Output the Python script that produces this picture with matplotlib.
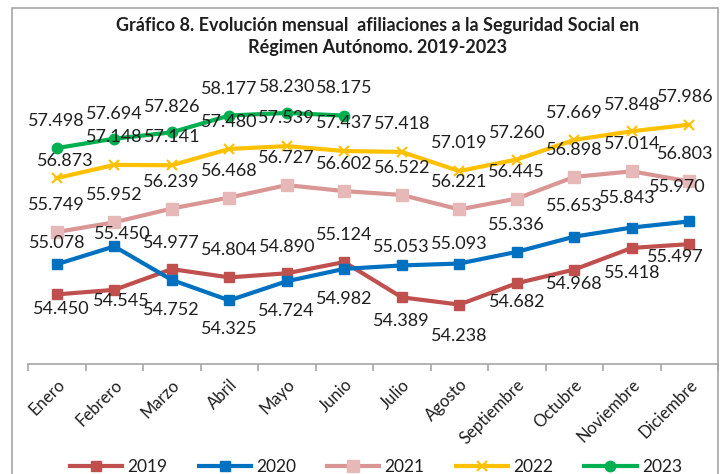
import matplotlib
matplotlib.use('Agg')
from matplotlib import pyplot as plt
from matplotlib.patches import Rectangle

plt.rcParams['font.family'] = ['Lato', 'DejaVu Sans']

meses = ['Enero', 'Febrero', 'Marzo', 'Abril', 'Mayo', 'Junio', 'Julio',
         'Agosto', 'Septiembre', 'Octubre', 'Noviembre', 'Diciembre']

v2019 = [54.450, 54.545, 54.977, 54.804, 54.890, 55.124, 54.389, 54.238,
         54.682, 54.968, 55.418, 55.497]
v2020 = [55.078, 55.450, 54.752, 54.325, 54.724, 54.982, 55.053, 55.093,
         55.336, 55.653, 55.843, 55.970]
v2021 = [55.749, 55.952, 56.239, 56.468, 56.727, 56.602, 56.522, 56.221,
         56.445, 56.898, 57.014, 56.803]
v2022 = [56.873, 57.148, 57.141, 57.480, 57.539, 57.437, 57.418, 57.019,
         57.260, 57.669, 57.848, 57.986]
v2023 = [57.498, 57.694, 57.826, 58.177, 58.230, 58.175]

# desplazamiento de las etiquetas (pixeles, y hacia abajo positivo)
off_y = {
    '2019': [15, 11, -26, -27, -26, -27, 24, 31, 19, 14, 25, 13],
    '2020': [-21, -12, 30, 29, 30, 30, -18, -20, -27, -31, -30, -34],
    '2021': [-27] * 12,
    '2022': [-17, -28, -28, -27, -28, -28, -28, -28, -27, -27, -26, -28],
    '2023': [-27, -25, -25, -27, -26, -28],
}
off_x = {
    '2019': [5, 7, 0, 0, 0, 0, 0, 0, 0, 0, 0, -14],
    '2020': [0, 8, 0, 0, 0, 0, 0, 0, 0, 0, -4, -12],
    '2021': [0] * 11 + [-4],
    '2022': [9] + [0] * 10 + [-4],
    '2023': [0] * 6,
}

series = [
    ('2019', v2019, dict(color='#C0504D', marker='s', ms=7.5, mfc='#C0504D', mec='#C0504D')),
    ('2020', v2020, dict(color='#0070C0', marker='s', ms=7.5, mfc='#0070C0', mec='#0070C0')),
    ('2021', v2021, dict(color='#D99694', marker='s', ms=8, mfc='#E6B9B8', mec='#E6B9B8')),
    ('2022', v2022, dict(color='#FFC000', marker='x', ms=7.5, mew=1.5)),
    ('2023', v2023, dict(color='#00B050', marker='o', ms=7.5)),
]

fig = plt.figure(figsize=(7.26, 4.74), dpi=100)
ax = fig.add_axes([28 / 726, 1 - 364 / 474, 690 / 726, 288 / 474])

txt = '#1f1f1f'
for name, vals, st in series:
    x = list(range(len(vals)))
    ax.plot(x, vals, lw=3, label=name, **st)
    for i, v in enumerate(vals):
        ax.annotate(f'{v:.3f}', (i, v), xytext=(off_x[name][i], -off_y[name][i]),
                    textcoords='offset pixels', ha='center', va='center',
                    fontsize=13, color=txt)

ax.set_xlim(-0.5, 11.5)
ax.set_ylim(53, 59)
for s in ['top', 'right', 'left']:
    ax.spines[s].set_visible(False)
ax.spines['bottom'].set_color('#A6A6A6')
ax.spines['bottom'].set_linewidth(1.2)
ax.set_yticks([])
ax.set_xticks([i - 0.5 for i in range(13)])
ax.set_xticklabels([])
ax.tick_params(axis='x', which='major', length=5, color='#A6A6A6', width=1.2)
ax.set_xticks(range(12), minor=True)
ax.set_xticklabels(meses, minor=True, rotation=45, ha='right',
                   rotation_mode='anchor', fontsize=12, color=txt)
ax.tick_params(axis='x', which='minor', length=0, pad=9)

fig.text(378 / 726, 1 - 25 / 474,
         'Gráfico 8. Evolución mensual  afiliaciones a la Seguridad Social en',
         ha='center', va='center', fontsize=13, fontweight='bold', color=txt)
fig.text(378 / 726, 1 - 48 / 474, 'Régimen Autónomo. 2019-2023',
         ha='center', va='center', fontsize=13, fontweight='bold', color=txt)

fig.legend(loc='center', bbox_to_anchor=(376 / 726, 1 - 467 / 474), ncol=5,
           frameon=False, fontsize=12.5, handlelength=3.0, columnspacing=1.8,
           handletextpad=0.3, labelcolor=txt)

fig.patches.append(Rectangle((12 / 726, -0.1), 706 / 726, 1.1 - 8 / 474,
                             transform=fig.transFigure, fill=False,
                             edgecolor='#A6A6A6', lw=1.2))

plt.savefig('out.png', dpi=100)
